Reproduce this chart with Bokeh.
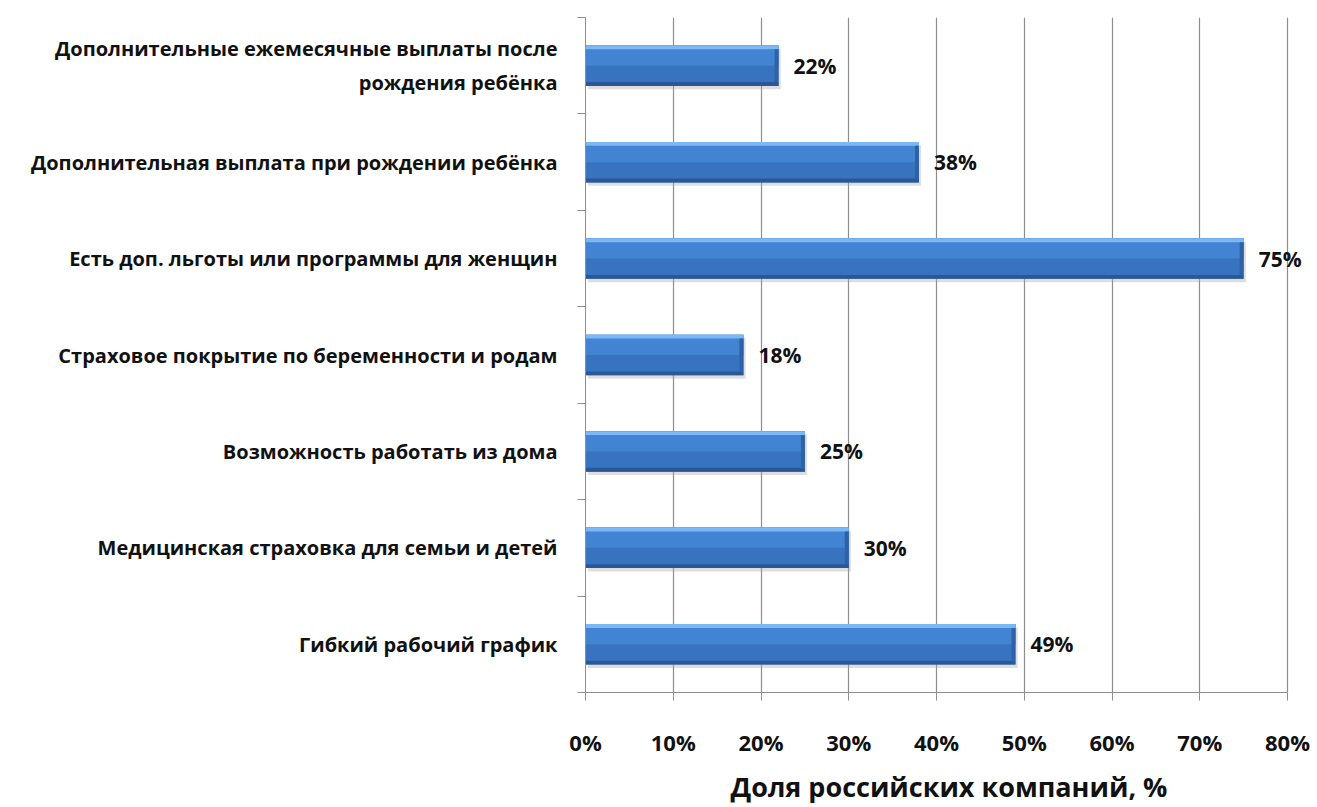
from bokeh.plotting import figure
from bokeh.models import Range1d, FixedTicker, ColumnDataSource, LabelSet, CustomJSTickFormatter
from bokeh.core.properties import value
from bokeh.transform import dodge
from bokeh.embed import file_html
from bokeh.resources import INLINE

categories = [
    "Дополнительные ежемесячные выплаты после\nрождения ребёнка",
    "Дополнительная выплата при рождении ребёнка",
    "Есть доп. льготы или программы для женщин",
    "Страховое покрытие по беременности и родам",
    "Возможность работать из дома",
    "Медицинская страховка для семьи и детей",
    "Гибкий рабочий график",
]
values = [22, 38, 75, 18, 25, 30, 49]
x_ticks = [0, 10, 20, 30, 40, 50, 60, 70, 80]
x_title = "Доля российских компаний, %"

FONT = "Open Sans"
TXT = "#111111"
n = len(categories)
ypos = [i + 0.5 for i in range(n)]
val_text = [f"{v}%" for v in values]
H = 0.42

src = ColumnDataSource(dict(y=ypos, v=values, txt=val_text, cat=categories))

# frame: 0% at x=585, 80% at x=1287; range extended a little so the 75% label is not clipped
p = figure(width=1312, height=807, output_backend="svg", toolbar_location=None,
           x_range=Range1d(0, 80 * (1312 - 585) / (1287 - 585)), y_range=Range1d(n, 0),
           min_border_left=585, min_border_right=0, min_border_top=17, min_border_bottom=100)
p.outline_line_color = None
p.background_fill_color = "white"

# grid
p.ygrid.grid_line_color = None
p.xgrid.ticker = FixedTicker(ticks=x_ticks)
p.xgrid.grid_line_color = "#8e8e8e"
p.xgrid.grid_line_width = 1.2

# bars (layered bevel effect)
p.hbar(y=dodge("y", 0.035), right=dodge("v", 0.25), left=0.3, height=H, source=src,
       fill_color="#a0a0a0", fill_alpha=0.35, line_color=None)
p.hbar(y="y", right="v", left=0, height=H, source=src, fill_color="#3873c0", line_color=None)
p.hbar(y=dodge("y", -H / 4), right="v", left=0, height=H / 2, source=src,
       fill_color="#4283d2", line_color=None)
p.hbar(y=dodge("y", -H / 2 + 0.02), right="v", left=0, height=0.04, source=src,
       fill_color="#7cb8f6", line_color=None)
p.hbar(y=dodge("y", H / 2 - 0.02), right="v", left=0, height=0.04, source=src,
       fill_color="#2a5894", line_color=None)
p.hbar(y="y", right="v", left=dodge("v", -0.45), height=H - 0.08, source=src,
       fill_color="#2e62a6", line_color=None)

# value labels
p.add_layout(LabelSet(x="v", y="y", text="txt", source=src, x_offset=15, text_baseline="middle",
                      text_font=value(FONT), text_font_style="bold", text_font_size="21px",
                      text_color=TXT))

# x axis
p.xaxis.ticker = FixedTicker(ticks=x_ticks)
p.xaxis.bounds = (0, 80)
p.xaxis.formatter = CustomJSTickFormatter(code="return tick + '%';")
p.xaxis.major_tick_in = 0
p.xaxis.major_tick_out = 8
p.xaxis.minor_tick_line_color = None
p.xaxis.axis_line_color = "#8e8e8e"
p.xaxis.major_tick_line_color = "#8e8e8e"
p.xaxis.major_label_standoff = 26
p.xaxis.major_label_text_font = FONT
p.xaxis.major_label_text_font_style = "bold"
p.xaxis.major_label_text_font_size = "22px"
p.xaxis.major_label_text_color = TXT
p.xaxis.axis_label = x_title
p.xaxis.axis_label_text_font = FONT
p.xaxis.axis_label_text_font_style = "bold"
p.xaxis.axis_label_text_font_size = "27px"
p.xaxis.axis_label_text_color = TXT
p.xaxis.axis_label_standoff = 8

# y axis: labels at category centres, tick marks at category boundaries
p.yaxis.ticker = FixedTicker(ticks=ypos, minor_ticks=list(range(n + 1)))
p.yaxis.major_label_overrides = {y: c for y, c in zip(ypos, categories)}
p.yaxis.major_tick_line_color = None
p.yaxis.major_tick_in = 0
p.yaxis.major_tick_out = 0
p.yaxis.minor_tick_in = 0
p.yaxis.minor_tick_out = 8
p.yaxis.minor_tick_line_color = "#8e8e8e"
p.yaxis.axis_line_color = "#8e8e8e"
p.yaxis.major_label_standoff = 20
p.yaxis.major_label_text_font = FONT
p.yaxis.major_label_text_font_style = "bold"
p.yaxis.major_label_text_font_size = "20px"
p.yaxis.major_label_text_color = TXT
p.yaxis.major_label_text_line_height = 1.25

open("out.html", "w").write(file_html(p, INLINE))
